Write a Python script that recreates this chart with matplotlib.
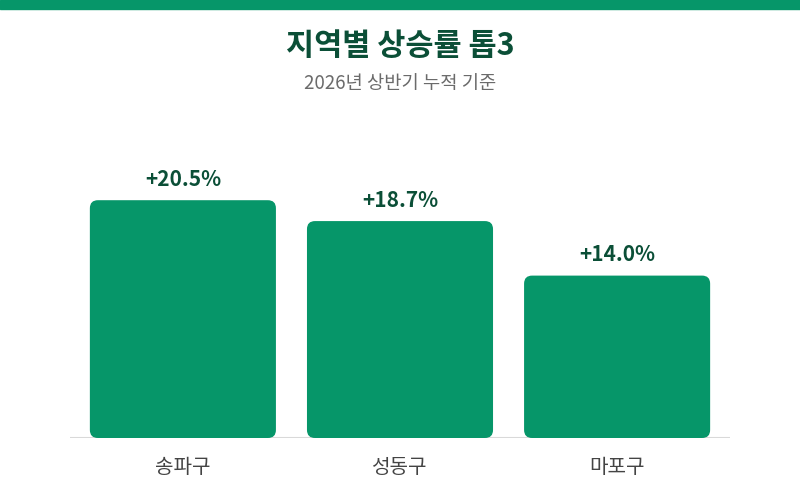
import numpy as np
import matplotlib.pyplot as plt
from matplotlib.patches import FancyBboxPatch, Rectangle

plt.rcParams["font.family"] = ["Noto Sans CJK KR", "DejaVu Sans"]

regions = ["송파구", "성동구", "마포구"]
rates = [20.5, 18.7, 14.0]
labels = ["+20.5%", "+18.7%", "+14.0%"]

title = "지역별 상승률 톱3"
subtitle = "2026년 상반기 누적 기준"

BAR = "#069669"
DARK = "#0b4f37"

fig = plt.figure(figsize=(8, 5), dpi=100)
fig.patch.set_facecolor("white")
fig.patches.append(Rectangle((0, 0.982), 1, 0.018, transform=fig.transFigure,
                             color=BAR, zorder=0))

ax = fig.add_axes([0.0875, 0.124, 0.825, 0.6])
x = np.arange(len(regions))
width = 0.857
ymax = 300 / 11.6
ax.set_xlim(-0.52, 2.52)
ax.set_ylim(0, ymax)

# radius correction between x and y data units
px_x = 660 / 3.04
px_y = 300 / ymax
aspect = px_x / px_y
for xi, v, lab in zip(x, rates, labels):
    p = FancyBboxPatch((xi - width / 2, 0), width, v,
                       boxstyle="round,pad=0,rounding_size=0.037",
                       mutation_aspect=aspect, facecolor=BAR, edgecolor="none")
    ax.add_patch(p)
    ax.text(xi, v + 21 / px_y, lab, ha="center", va="center",
            fontsize=15, fontweight="bold", color=DARK)

ax.axhline(0, color="#d9d9d9", linewidth=1.5, zorder=0)
for s in ax.spines.values():
    s.set_visible(False)
ax.set_yticks([])
ax.set_xticks(x)
ax.set_xticklabels(regions, fontsize=14.5, color="#444444")
ax.tick_params(axis="x", length=0, pad=14)

fig.text(0.5, 0.908, title, ha="center", va="center", fontsize=22,
         fontweight="bold", color=DARK)
fig.text(0.5, 0.834, subtitle, ha="center", va="center", fontsize=13.5,
         color="#6b6b6b")

fig.savefig("out.png", dpi=100)
